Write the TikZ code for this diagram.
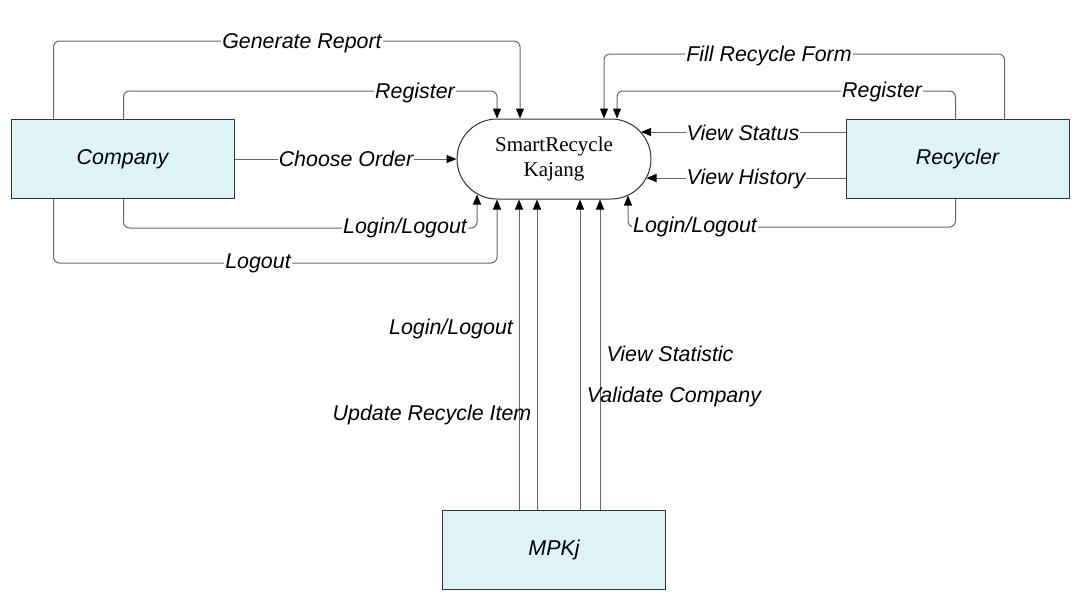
\documentclass[tikz,border=0pt]{standalone}
\usepackage{fontspec}
\setmainfont{Liberation Serif}
\setsansfont{Liberation Sans}
\usetikzlibrary{arrows.meta}
\usetikzlibrary{positioning}
\definecolor{boxfill}{RGB}{221,243,245}
\definecolor{linegray}{RGB}{105,105,105}

\tikzset{
  entity/.style={draw=black!80, fill=boxfill, line width=1pt, minimum width=223pt, minimum height=79pt,
    font=\sffamily\itshape\fontsize{21.4}{24}\selectfont},
  process/.style={draw=black!80, line width=1pt, rounded corners=40pt, minimum width=194pt, minimum height=80pt,
    align=center, font=\fontsize{21}{25}\selectfont},
  flow/.style={draw=linegray, line width=1pt, rounded corners=6pt,
    -{Triangle[length=10pt,width=8pt,color=black]}},
  lbl/.style={fill=white, inner sep=1pt, font=\sffamily\itshape\fontsize{21.4}{24}\selectfont},
}

\begin{document}
\begin{tikzpicture}[x=1pt,y=-1pt]
\useasboundingbox (0,0) rectangle (1080,614);

% the process and the entities
\node[process] (centre) at (554,159) {SmartRecycle\\Kajang};
\node[entity, left=222pt of centre] (company) {Company};
\node[entity, right=194pt of centre] (recycler) {Recycler};
\node[entity, below=310pt of centre] (mpkj) {MPKj};

% company flows
\draw[flow] ([xshift=43pt]company.north west) -- ++(0,-78) -| ([xshift=-34pt]centre.north);
\draw[flow] ([xshift=113pt]company.north west) -- ++(0,-28) -| ([xshift=-57pt]centre.north);
\draw[flow] (company.east) -- (centre.west);
\draw[flow] ([xshift=113pt]company.south west) -- ++(0,29) -| ([xshift=-77pt,yshift=5pt]centre.south);
\draw[flow] ([xshift=43pt]company.south west) -- ++(0,64) -| ([xshift=-57pt]centre.south);

% recycler flows
\draw[flow] ([xshift=159pt]recycler.north west) -- ++(0,-65) -| ([xshift=50pt]centre.north);
\draw[flow] ([xshift=110pt]recycler.north west) -- ++(0,-28) -| ([xshift=63pt]centre.north);
\draw[flow] ([yshift=27pt]recycler.west) -- ([xshift=-10.5pt,yshift=27pt]centre.east);
\draw[flow] ([yshift=-19pt]recycler.west) -- ([xshift=-5pt,yshift=-19pt]centre.east);
\draw[flow] ([xshift=110pt]recycler.south west) -- ++(0,28) -| ([xshift=74pt,yshift=4pt]centre.south);

% mpkj flows
\foreach \dx in {-35,-17,26,46} {
    \draw[flow] ([xshift=\dx pt]mpkj.north) -- ([xshift=\dx pt]centre.south);
}

% labels
\node[lbl] (genreport) at (302,43) {Generate Report};
\node[lbl] (compreg) at (415,93) {Register};
\node[lbl] (chooseorder) at (346,159) {Choose Order};
\node[lbl] (complogin) at (405,228) {Login/Logout};
\node[lbl] (complogout) at (258,263) {Logout};
\node[lbl] (fillform) at (769,56) {Fill Recycle Form};
\node[lbl] (recreg) at (882,92) {Register};
\node[lbl] (viewstatus) at (743,133) {View Status};
\node[lbl] (viewhistory) at (746,179) {View History};
\node[lbl] (reclogin) at (695,227) {Login/Logout};
\node[lbl, fill=none] (mpkjlogin) at (451,329) {Login/Logout};
\node[lbl, fill=none] (updateitem) at (432,415) {Update Recycle Item};
\node[lbl, fill=none] (viewstat) at (670,354) {View Statistic};
\node[lbl, fill=none] (validate) at (674,397) {Validate Company};

\end{tikzpicture}
\end{document}
